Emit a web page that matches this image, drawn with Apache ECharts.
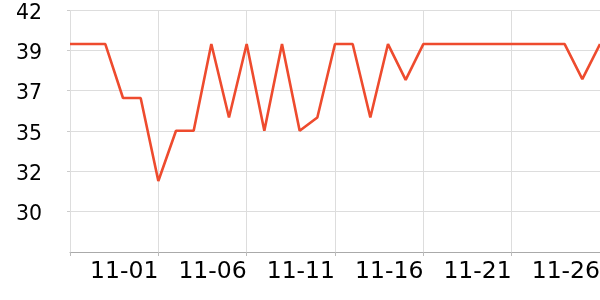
<!DOCTYPE html>
<html>
<head>
<meta charset="utf-8">
<script src="https://cdn.jsdelivr.net/npm/echarts@6/dist/echarts.min.js"></script>
<style>html,body{margin:0;padding:0;background:#fff}#c{width:600px;height:300px}</style>
</head>
<body>
<div id="c"></div>
<script>
const categories = ['10-27','10-28','10-29','10-30','10-31','11-01','11-02','11-03','11-04','11-05','11-06','11-07','11-08','11-09','11-10','11-11','11-12','11-13','11-14','11-15','11-16','11-17','11-18','11-19','11-20','11-21','11-22','11-23','11-24','11-25','11-26'];
const values = [39.84,39.84,39.84,36.54,36.54,31.47,34.54,34.54,39.84,35.35,39.84,34.54,39.84,34.54,35.35,39.84,39.84,35.35,39.84,37.65,39.84,39.84,39.84,39.84,39.84,39.84,39.84,39.84,39.84,37.7,39.84];
const yMin = 27.126, yMax = 41.922, yStep = 2.466;

const chart = echarts.init(document.getElementById('c'), null, {renderer: 'canvas'});
chart.setOption({
  animation: false,
  grid: {left: 70, right: 0, top: 10, bottom: 48, containLabel: false, outerBoundsMode: 'none'},
  xAxis: {
    type: 'category',
    data: categories,
    boundaryGap: false,
    axisLine: {lineStyle: {color: '#aaaaaa', width: 1}},
    axisTick: {interval: 4, length: 4, lineStyle: {color: '#bbbbbb'}},
    splitLine: {show: true, interval: 4, lineStyle: {color: '#dddddd', width: 1}},
    axisLabel: {
      interval: 4,
      align: 'right',
      margin: 8,
      color: '#000',
      fontSize: 23.5,
      fontFamily: 'DejaVu Sans',
      formatter: (v, i) => (v === categories[0] ? '' : v)
    }
  },
  yAxis: {
    type: 'value',
    min: yMin,
    max: yMax,
    interval: yStep,
    axisLine: {show: false},
    axisTick: {show: true, length: 3, lineStyle: {color: '#cccccc'}},
    splitLine: {lineStyle: {color: '#dddddd', width: 1}},
    axisLabel: {
      margin: 28,
      color: '#000',
      fontSize: 20.5,
      fontFamily: 'DejaVu Sans',
      verticalAlign: 'top',
      padding: [-7, 0, 0, 0],
      showMinLabel: false,
      formatter: v => (Math.abs(v - yMin) < 1e-6 ? '' : String(Math.round(v)))
    }
  },
  series: [{
    type: 'line',
    data: values,
    symbol: 'none',
    lineStyle: {color: '#ee4b2e', width: 2.6},
    clip: true
  }]
});
</script>
</body>
</html>
